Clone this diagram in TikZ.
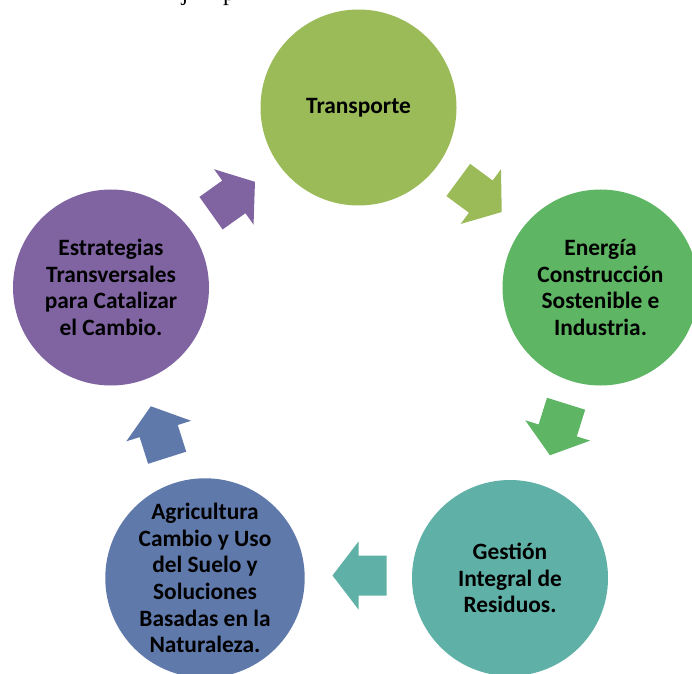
\documentclass[tikz,border=0pt]{standalone}
\usepackage{fontspec}
\setmainfont{Carlito}
\newfontfamily\docserif{Liberation Serif}
\definecolor{cT}{HTML}{9BBB59}
\definecolor{cE}{HTML}{5EB564}
\definecolor{cG}{HTML}{5FB0A6}
\definecolor{cA}{HTML}{6079AB}
\definecolor{cS}{HTML}{8064A2}
\tikzset{
  x=1pt, y=1pt,
  stage/.style={circle, draw=none, minimum size=196pt, inner sep=0pt, align=center,
    font=\fontsize{23.4}{26.6}\selectfont\bfseries, text=black},
  pics/cyclearrow/.style={code={
    \fill[#1] (-27,-20) -- (1,-20) -- (1,-34) -- (27,0) -- (1,34) -- (1,20) -- (-27,20) -- cycle;}},
  doctext/.style={font=\docserif\fontsize{24}{28}\selectfont, inner sep=0pt, anchor=base}
}
\begin{document}
\begin{tikzpicture}
\useasboundingbox (0,0) rectangle (692,673);
% clipped fragment of the surrounding text
\node[doctext] (fragj) at (185,672) {j};
\node[doctext] (fragp) at (229,672) {p};
% stages
\node[stage, fill=cT] (T) at (358.5,565.5) {Transporte};
\node[stage, fill=cE] (E) at (600.5,385.5) {Energía\\Construcción\\Sostenible e\\Industria.};
\node[stage, fill=cG] (G) at (510,95) {Gestión\\Integral de\\Residuos.};
\node[stage, fill=cA] (A) at (205,95) {Agricultura\\Cambio y Uso\\del Suelo y\\Soluciones\\Basadas en la\\Naturaleza.};
\node[stage, fill=cS] (S) at (111,385.5) {Estrategias\\Transversales\\para Catalizar\\el Cambio.};
% cycle arrows
\coordinate (a1) at (480,477);
\coordinate (a2) at (558,243.5);
\coordinate (a3) at (359.5,97.5);
\coordinate (a4) at (159,241);
\coordinate (a5) at (233,475.5);
\pic[rotate=-36.4] at (a1) {cyclearrow=cT};
\pic[rotate=-107.4] at (a2) {cyclearrow=cE};
\pic[rotate=180] at (a3) {cyclearrow=cG};
\pic[rotate=107.6] at (a4) {cyclearrow=cA};
\pic[rotate=35.5] at (a5) {cyclearrow=cS};
\end{tikzpicture}
\end{document}
